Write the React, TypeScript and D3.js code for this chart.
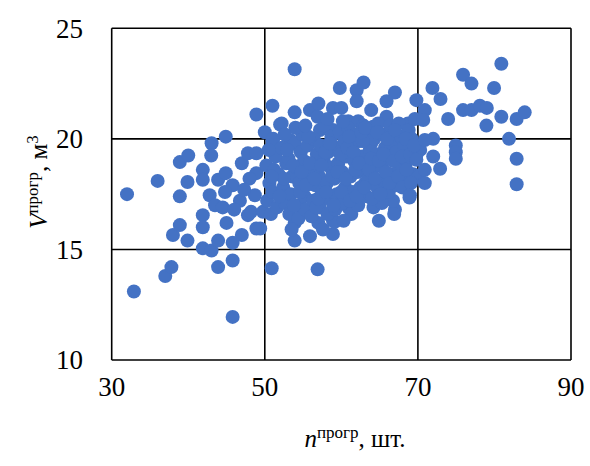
import * as d3 from "d3";
import React from "react";

// n (шт.) and V (м3) pairs
const leftPoints: [number, number][] = [
  [32.0, 17.5], [32.9, 13.1], [36.0, 18.1], [37.0, 13.8], [37.8, 14.2], [38.0, 15.65],
  [38.9, 16.1], [38.9, 17.4], [38.9, 18.95], [40.0, 19.25], [39.9, 18.05], [39.9, 15.4],
  [41.9, 18.6], [41.9, 18.15], [41.9, 16.55], [41.9, 16.0], [41.9, 15.05], [43.05, 19.8],
  [43.0, 19.25], [43.05, 14.95], [43.9, 18.15], [43.9, 15.4], [43.9, 14.2], [44.9, 20.1],
  [44.9, 18.45], [45.0, 16.2], [45.8, 17.9], [45.8, 15.3], [45.8, 14.5], [45.8, 11.95],
  [47.0, 18.9], [47.0, 15.65], [47.8, 19.35], [47.8, 16.55], [48.9, 19.35], [48.9, 21.1],
  [48.9, 18.45], [48.9, 15.95], [42.8, 17.45], [44.8, 17.6], [46.75, 17.2], [48.7, 17.45],
  [43.5, 17.0], [44.5, 16.9], [46.0, 16.8], [48.2, 16.7], [48.0, 18.2], [47.3, 17.7],
];

const coreEdge: [number, number][] = [
  [49.75, 16.7], [50.0, 20.3], [51.0, 21.5], [51.0, 19.9], [50.9, 14.15], [52.0, 20.65],
  [53.9, 23.15], [59.8, 22.3], [62.0, 22.2], [62.9, 22.55], [62.0, 21.7], [67.0, 22.1],
  [65.9, 21.7], [69.8, 21.75], [53.9, 21.2], [55.9, 21.3], [57.0, 21.6], [58.9, 21.4],
  [60.0, 21.4], [63.9, 21.3], [65.9, 21.0], [60.9, 20.8], [62.2, 20.8], [52.2, 20.7],
  [64.15, 20.55], [66.8, 20.4], [68.7, 20.7], [57.2, 20.4], [58.9, 20.4], [51.1, 20.0],
  [53.3, 19.95], [65.9, 19.4], [68.1, 19.1], [69.8, 19.25], [63.9, 19.8],
  [56.9, 14.1], [53.9, 15.4], [55.9, 15.6], [58.9, 15.7], [64.9, 16.3], [67.0, 16.8],
  [68.9, 17.35], [66.75, 17.2], [60.9, 16.9], [60.9, 17.4], [58.9, 16.3], [53.9, 16.2],
  [64.9, 17.6], [49.4, 15.95], [59.15, 16.25], [63.1, 18.0], [65.0, 17.7], [57.0, 16.2],
];

const coreDense: [number, number][] = [
  [50.3, 17.2], [50.6, 18.0], [50.2, 18.8], [51.4, 19.2], [51.0, 17.6], [51.8, 18.4],
  [50.8, 16.6], [51.6, 16.9], [52.4, 17.8], [52.2, 19.6], [52.8, 18.9], [52.6, 17.1],
  [50.5, 19.5], [53.2, 16.6], [53.4, 17.5], [53.6, 18.3], [53.1, 19.1], [53.9, 19.8],
  [54.3, 17.0], [54.5, 18.0], [54.2, 18.7], [54.7, 19.4], [54.9, 20.2], [54.4, 16.4],
  [55.2, 17.4], [55.5, 18.4], [55.1, 19.0], [55.6, 19.7], [55.3, 16.8], [54.0, 20.5],
  [53.5, 15.9], [56.1, 16.5], [56.3, 17.2], [56.6, 17.9], [56.2, 18.6], [56.8, 19.3],
  [56.4, 20.0], [57.2, 16.9], [57.5, 17.6], [57.1, 18.3], [57.7, 19.0], [57.3, 19.7],
  [57.8, 20.6], [58.2, 16.6], [58.4, 17.3], [58.1, 18.0], [58.6, 18.7], [58.3, 19.4],
  [58.7, 20.1], [57.6, 15.9], [56.9, 21.0], [59.2, 16.8], [59.4, 17.5], [59.1, 18.2],
  [59.6, 18.9], [59.3, 19.6], [59.8, 20.3], [60.2, 17.1], [60.5, 17.8], [60.1, 18.5],
  [60.7, 19.2], [60.4, 19.9], [60.9, 20.5], [61.3, 16.6], [61.5, 17.6], [61.2, 18.3],
  [61.7, 19.0], [61.4, 19.7], [61.9, 20.2], [60.3, 16.3], [62.2, 17.0], [62.5, 17.8],
  [62.1, 18.5], [62.7, 19.2], [62.4, 19.9], [62.9, 20.6], [63.3, 17.4], [63.5, 18.2],
  [63.2, 18.9], [63.7, 19.5], [63.4, 20.1], [64.2, 16.9], [64.5, 17.9], [64.1, 18.6],
  [64.6, 19.3], [64.3, 20.0], [64.8, 20.7], [65.3, 17.1], [65.6, 18.1], [65.2, 18.8],
  [65.7, 19.6], [65.4, 20.2], [66.2, 17.6], [66.5, 18.4], [66.1, 19.1], [66.7, 19.8],
  [66.4, 20.6], [67.3, 17.9], [67.6, 18.7], [67.2, 19.4], [67.8, 20.1], [67.5, 20.7],
  [66.9, 16.6], [68.3, 18.2], [68.6, 19.0], [68.2, 19.7], [68.8, 20.4], [69.4, 18.4],
  [69.2, 20.0], [69.6, 20.9], [70.3, 19.5], [70.1, 18.3],
];

const coreFill: [number, number][] = [
  [51.2, 18.6], [51.9, 17.4], [52.5, 18.2], [52.9, 19.5], [53.8, 17.0], [53.7, 18.8],
  [54.6, 17.6], [54.8, 18.5], [55.4, 17.9], [55.9, 18.9], [55.7, 20.1], [56.5, 18.2],
  [56.7, 16.9], [57.0, 17.3], [57.4, 18.8], [57.9, 19.4], [58.0, 17.6], [58.8, 18.3],
  [58.5, 19.8], [59.0, 17.0], [59.5, 18.5], [59.9, 19.3], [60.0, 17.6], [60.6, 18.2],
  [60.8, 19.6], [61.0, 20.1], [61.1, 17.2], [61.8, 18.6], [61.6, 19.4], [62.0, 17.4],
  [62.3, 18.9], [62.8, 19.9], [62.6, 20.3], [63.0, 17.8], [63.6, 18.6], [63.9, 19.1],
  [63.1, 20.5], [64.0, 17.3], [64.4, 18.2], [64.9, 19.0], [64.7, 20.3], [65.1, 17.5],
  [65.8, 18.5], [65.5, 19.3], [66.0, 20.0], [66.3, 18.0], [66.8, 19.0], [67.0, 20.4],
  [67.4, 18.3], [67.9, 19.2], [68.0, 17.8], [68.5, 18.6], [68.4, 20.0], [69.0, 19.3],
  [69.5, 19.7], [69.1, 18.0], [58.2, 20.9], [60.2, 20.8], [55.3, 20.6], [52.6, 20.2],
  [50.9, 18.3],
];

const rightPoints: [number, number][] = [
  [80.9, 23.4], [75.9, 22.9], [77.0, 22.5], [79.95, 22.3], [71.9, 22.3], [72.95, 21.8],
  [70.9, 21.3], [75.9, 21.3], [77.0, 21.3], [78.1, 21.5], [79.0, 21.4], [73.95, 20.9],
  [78.95, 20.6], [80.9, 21.0], [82.9, 20.9], [83.95, 21.2], [81.9, 20.0], [82.9, 19.1],
  [82.9, 17.95], [74.95, 19.7], [74.95, 19.4], [74.95, 19.1], [72.0, 20.0], [70.9, 19.95],
  [72.0, 19.2], [72.9, 18.65], [70.9, 18.0], [70.9, 18.6], [69.8, 19.05], [68.95, 17.45],
  [70.7, 20.85],
];

const xTicks = [30, 50, 70, 90];
const yTicks = [10, 15, 20, 25];

const W = 590;
const H = 466;
const margin = { top: 28.3, right: 19, bottom: 106, left: 111.7 };
const font = "'Liberation Serif', 'Times New Roman', serif";

export default function App() {
  const x = d3.scaleLinear().domain([30, 90]).range([margin.left, W - margin.right]);
  const y = d3.scaleLinear().domain([10, 25]).range([H - margin.bottom, margin.top]);
  const points = [...leftPoints, ...coreEdge, ...coreDense, ...coreFill, ...rightPoints];

  return (
    <svg
      width={W}
      height={H}
      style={{ position: "absolute", left: 0, top: 0, background: "#fff" }}
    >
      {xTicks.map((t) => (
        <line key={"gx" + t} x1={x(t)} x2={x(t)} y1={y(10)} y2={y(25)} stroke="#000" strokeWidth={1.6} />
      ))}
      {yTicks.map((t) => (
        <line key={"gy" + t} x1={x(30)} x2={x(90)} y1={y(t)} y2={y(t)} stroke="#000" strokeWidth={1.6} />
      ))}
      {points.map((p, i) => (
        <circle key={i} cx={x(p[0])} cy={y(p[1])} r={7} fill="#4472C4" />
      ))}
      {xTicks.map((t) => (
        <text key={"tx" + t} x={x(t)} y={396} textAnchor="middle" fontFamily={font} fontSize={27} fill="#000">
          {t}
        </text>
      ))}
      {yTicks.map((t) => (
        <text key={"ty" + t} x={83} y={y(t)} dy="0.35em" textAnchor="end" fontFamily={font} fontSize={27} fill="#000">
          {t}
        </text>
      ))}
      <text x={355} y={447} textAnchor="middle" fontFamily={font} fontSize={25} fill="#000">
        <tspan fontStyle="italic">n</tspan>
        <tspan fontSize={17} dy={-9}>прогр</tspan>
        <tspan dy={9}>, шт.</tspan>
      </text>
      <text
        transform="translate(47,182) rotate(-90)"
        textAnchor="middle"
        fontFamily={font}
        fontSize={25}
        fill="#000"
      >
        <tspan fontStyle="italic">V</tspan>
        <tspan fontSize={17} dy={-9}>прогр</tspan>
        <tspan dy={9}>, м</tspan>
        <tspan fontSize={17} dy={-9}>3</tspan>
      </text>
    </svg>
  );
}
